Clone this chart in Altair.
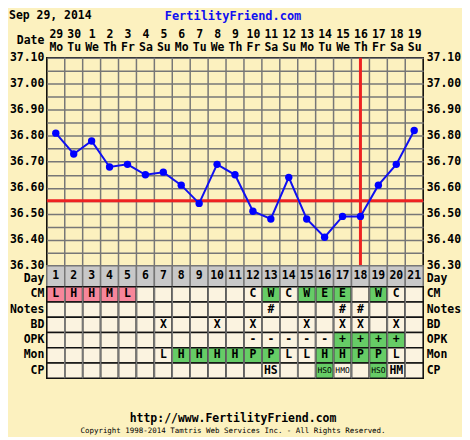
import altair as alt
import pandas as pd

# ---------------- data ----------------
header_date = "Sep 29, 2014"
site_name = "FertilityFriend.com"
footer_url = "http://www.FertilityFriend.com"
footer_copy = "Copyright 1998-2014 Tamtris Web Services Inc. - All Rights Reserved."

days = list(range(1, 22))
dates = ["29", "30", "1", "2", "3", "4", "5", "6", "7", "8", "9", "10",
         "11", "12", "13", "14", "15", "16", "17", "18", "19"]
weekdays = ["Mo", "Tu", "We", "Th", "Fr", "Sa", "Su"] * 3
temps = [36.81, 36.73, 36.78, 36.68, 36.69, 36.65, 36.66, 36.61, 36.54, 36.69,
         36.65, 36.51, 36.48, 36.64, 36.48, 36.41, 36.49, 36.49, 36.61, 36.69, 36.82]
coverline = [36.55]
ovulation_day = [18]

rows = ["CM", "Notes", "BD", "OPK", "Mon", "CP"]
cm = ["L", "H", "H", "M", "L", "", "", "", "", "", "", "C", "W", "C", "W", "E", "E", "", "W", "C", ""]
notes = ["", "", "", "", "", "", "", "", "", "", "", "", "#", "", "", "", "#", "#", "", "", ""]
bd = ["", "", "", "", "", "", "X", "", "", "X", "", "X", "", "", "X", "", "X", "X", "", "X", ""]
opk = ["", "", "", "", "", "", "", "", "", "", "", "-", "-", "-", "-", "-", "+", "+", "+", "+", ""]
mon = ["", "", "", "", "", "", "L", "H", "H", "H", "H", "P", "P", "L", "L", "H", "H", "P", "P", "L", ""]
cp = ["", "", "", "", "", "", "", "", "", "", "", "", "HS", "", "", "HSO", "HMO", "", "HSO", "HM", ""]

period_days = {"CM": [1, 2, 3, 4, 5]}
fertile_days = {"CM": [13, 15, 16, 17, 19], "OPK": [17, 18, 19, 20],
                "Mon": [8, 9, 10, 11, 12, 13, 16, 17, 18, 19], "CP": [16, 19]}

# ---------------- tables ----------------
temp_df = pd.DataFrame({"x": days, "t": temps})
grid_df = pd.DataFrame({"x": [d + 0.5 for d in days[:-1]]})
cover_df = pd.DataFrame({"t": coverline})
ov_df = pd.DataFrame({"x": ovulation_day})
one_df = pd.DataFrame({"a": [0]})

cell_rows = []
for r, vals in zip(rows, [cm, notes, bd, opk, mon, cp]):
    for d, v in zip(days, vals):
        kind = "none"
        if d in period_days.get(r, []):
            kind = "period"
        if d in fertile_days.get(r, []):
            kind = "fertile"
        cell_rows.append({"row": r, "x": d, "x0": d - 0.5, "x1": d + 0.5, "text": v, "kind": kind})
cells = pd.DataFrame(cell_rows)
day_df = pd.DataFrame({"row": ["Day"] * 21, "x": days, "x0": [d - 0.5 for d in days],
                       "x1": [d + 0.5 for d in days], "text": [str(d) for d in days]})

# ---------------- style ----------------
BG = "#FCF1BF"
CELL = "#FBF3E0"
FONT = "DejaVu Sans Mono"
FS = 11.5
W, H = 378, 209

xscale = alt.Scale(domain=[0.5, 21.5], nice=False, zero=False)
yvals = [round(36.30 + 0.05 * i, 2) for i in range(17)]
yscale = alt.Scale(domain=[36.30, 37.10], nice=False, zero=False)

D = "[" + ",".join(f"'{d}'" for d in dates) + "]"
WD = "[" + ",".join(f"'{w}'" for w in weekdays) + "]"
top_axis = alt.Axis(orient="top", values=days, labelExpr=f"[{D}[datum.value-1], {WD}[datum.value-1]]",
                    grid=False, ticks=False, domain=False, labelPadding=18, labelLineHeight=13,
                    labelFont=FONT, labelFontSize=FS, labelFontWeight="bold", labelColor="black",
                    labelFlush=False, labelOverlap=False, labelBound=False,
                    title="Date", titleX=-3, titleY=-17, titleAlign="right", titleBaseline="middle",
                    titleAngle=0, titleFont=FONT, titleFontSize=FS, titleFontWeight="bold", titleColor="black")
xt = lambda f="x": alt.X(f"{f}:Q", scale=xscale, axis=top_axis)

common_y = dict(values=yvals, format=".2f",
                labelExpr="(round(datum.value*100) % 10 == 0) ? datum.label : ''",
                ticks=False, domain=False, labelPadding=3, title=None,
                labelFont=FONT, labelFontSize=FS, labelFontWeight="bold", labelColor="black",
                labelFlush=False, labelOverlap=False, labelBound=False, labelBaseline="middle")
left_axis = alt.Axis(orient="left", grid=True, gridColor="#777777", gridWidth=1.5, **common_y)
right_axis = alt.Axis(orient="right", grid=False, **common_y)

vgrid = alt.Chart(grid_df).mark_rule(color="#777777", strokeWidth=1.5).encode(x=xt())
cover = alt.Chart(cover_df).mark_rule(color="#EE2222", strokeWidth=3).encode(
    y=alt.Y("t:Q", scale=yscale, axis=None))
ovl = alt.Chart(ov_df).mark_rule(color="#EE2222", strokeWidth=3).encode(x=xt())
line = alt.Chart(temp_df).mark_line(color="#1010F0", strokeWidth=2).encode(
    x=xt(), y=alt.Y("t:Q", scale=yscale, axis=left_axis))
pts = alt.Chart(temp_df).mark_point(filled=True, color="#0000FF", size=55, opacity=1).encode(
    x=xt(), y=alt.Y("t:Q", scale=yscale, axis=right_axis))
hdr1 = alt.Chart(one_df).mark_text(align="left", baseline="middle", font=FONT, fontSize=FS,
                                   fontWeight="bold", color="black").encode(
    x=alt.value(-38), y=alt.value(-42), text=alt.value(header_date))
hdr2 = alt.Chart(one_df).mark_text(align="center", baseline="middle", font=FONT, fontSize=12,
                                   fontWeight="bold", color="#1010F0").encode(
    x=alt.value(187), y=alt.value(-42), text=alt.value(site_name))

top = alt.layer(vgrid, cover, ovl, line, pts, hdr1, hdr2).resolve_axis(y="independent").properties(
    width=W, height=H)

# Day row
row_axis = dict(ticks=False, domain=False, labelPadding=3, title=None, labelFont=FONT,
                labelFontSize=FS, labelFontWeight="bold", labelColor="black", labelAngle=0)
xb = alt.X("x0:Q", scale=xscale, axis=None)
day_y = alt.Scale(domain=["Day"], paddingInner=0, paddingOuter=0)
day_rect = alt.Chart(day_df).mark_rect(fill="#C8C8C8", stroke="#777777", strokeWidth=1.5).encode(
    x=xb, x2="x1:Q", y=alt.Y("row:N", scale=day_y,
                             axis=alt.Axis(orient="left", labelOffset=3, **row_axis)))
day_txt = alt.Chart(day_df).mark_text(font=FONT, fontSize=FS, fontWeight="bold", color="black",
                                      baseline="middle").encode(
    x=alt.X("x:Q", scale=xscale, axis=None),
    y=alt.Y("row:N", scale=day_y, axis=alt.Axis(orient="right", labelOffset=3, **row_axis)),
    text="text:N")
dayp = alt.layer(day_rect, day_txt).resolve_axis(y="independent").properties(width=W, height=21)

# Table
tab_y = alt.Scale(domain=rows, paddingInner=0, paddingOuter=0)
fill_scale = alt.Scale(domain=["none", "period", "fertile"], range=[CELL, "#F7869A", "#66CC66"])
t_rect = alt.Chart(cells).mark_rect(stroke="#111111", strokeWidth=1.5).encode(
    x=xb, x2="x1:Q", y=alt.Y("row:N", scale=tab_y, sort=rows, axis=alt.Axis(orient="left", **row_axis)),
    fill=alt.Fill("kind:N", scale=fill_scale, legend=None))
t_vgrid = alt.Chart(grid_df).mark_rule(color="#777777", strokeWidth=1.5).encode(
    x=alt.X("x:Q", scale=xscale, axis=None))
t_big = alt.Chart(cells).transform_filter("length(datum.text) < 3").mark_text(
    font=FONT, fontSize=FS, fontWeight="bold", color="black", baseline="middle").encode(
    x=alt.X("x:Q", scale=xscale, axis=None),
    y=alt.Y("row:N", scale=tab_y, sort=rows, axis=alt.Axis(orient="right", **row_axis)), text="text:N")
t_small = alt.Chart(cells).transform_filter("length(datum.text) >= 3").mark_text(
    font=FONT, fontSize=8, color="black", baseline="middle").encode(
    x=alt.X("x:Q", scale=xscale, axis=None),
    y=alt.Y("row:N", scale=tab_y, sort=rows, axis=None), text="text:N")
f1 = alt.Chart(one_df).mark_text(align="center", baseline="middle", font=FONT, fontSize=FS,
                                 fontWeight="bold", color="black").encode(
    x=alt.value(187), y=alt.value(133), text=alt.value(footer_url))
f2 = alt.Chart(one_df).mark_text(align="center", baseline="middle", font=FONT, fontSize=7.5,
                                 color="black").encode(
    x=alt.value(187), y=alt.value(145), text=alt.value(footer_copy))
table = alt.layer(t_rect, t_vgrid, t_big, t_small, f1, f2).resolve_axis(y="independent").properties(
    width=W, height=92)

chart = alt.vconcat(top, dayp, table, spacing=0, bounds="flush").properties(
    padding=0, background=BG
).configure_view(stroke="black", strokeWidth=1.5, fill=BG)

chart.save("out.html", embed_options={"renderer": "svg", "actions": False})
